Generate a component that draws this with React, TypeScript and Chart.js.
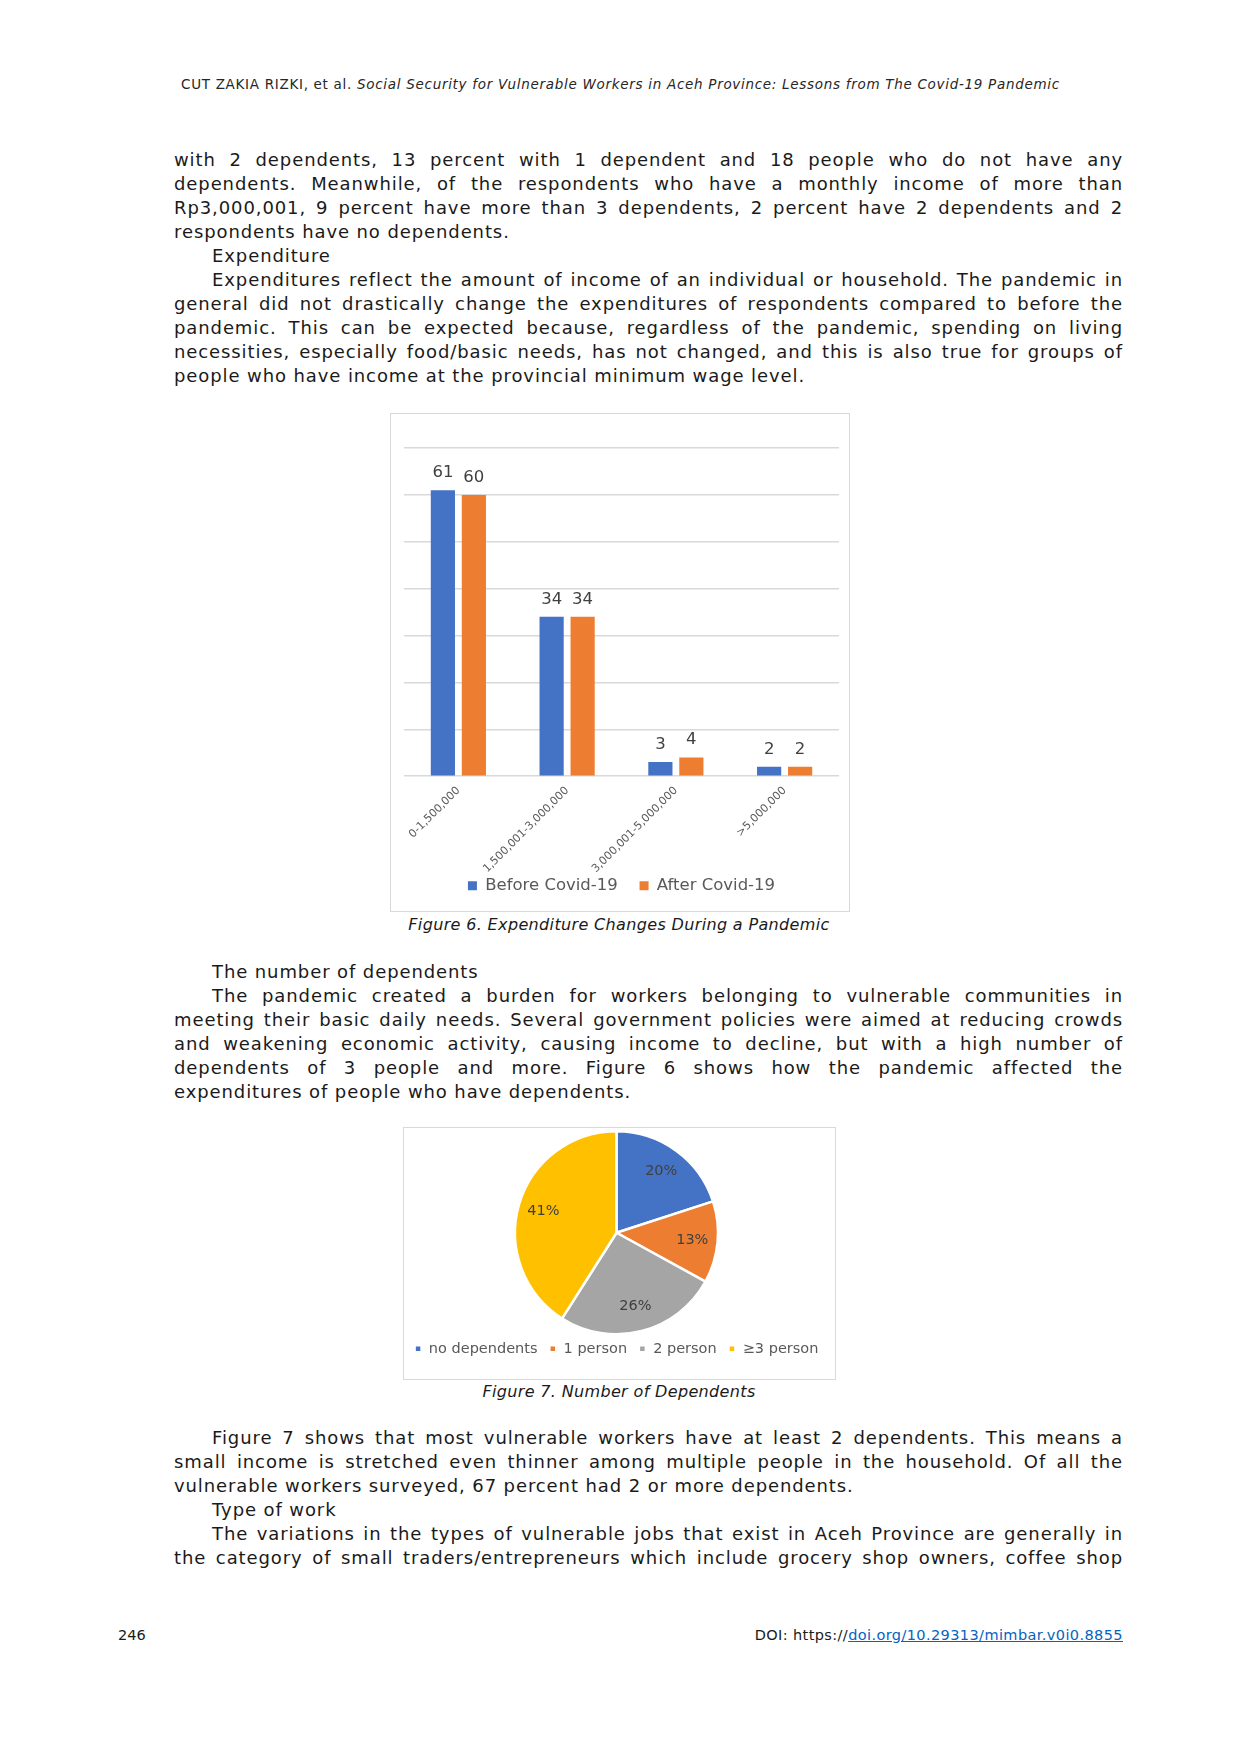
import { useEffect, useRef } from "react";
import { Chart, registerables } from "chart.js";

Chart.register(...registerables);

// Figure 6: expenditure groups (Rp)
const expenditureGroups = ["0-1,500,000", "1,500,001-3,000,000", "3,000,001-5,000,000", ">5,000,000"];
const beforeCovid = [61, 34, 3, 2];
const afterCovid = [60, 34, 4, 2];
const seriesNames = ["Before Covid-19", "After Covid-19"];
const yMax = 70;
const yStep = 10;

// Figure 7: number of dependents
const dependentLabels = ["no dependents", "1 person", "2 person", "≥3 person"];
const dependentShares = [20, 13, 26, 41];

const FONT = "'DejaVu Sans', Verdana, sans-serif";
const BLUE = "#4472C4";
const ORANGE = "#ED7D31";
const GREY = "#A5A5A5";
const GOLD = "#FFC000";

// legend items sit a bit further apart than Chart.js' padding allows, so pad the text itself
function spacedLegend(base: (chart: any) => any[], gap: string) {
	return (chart: any) => {
		const items = base(chart);
		return items.map((item: any, i: number) => (i < items.length - 1 ? { ...item, text: item.text + gap } : item));
	};
}

const barValueLabels = {
	id: "barValueLabels",
	afterDatasetsDraw(chart: any) {
		const { ctx } = chart;
		ctx.save();
		ctx.font = `16.5px ${FONT}`;
		ctx.fillStyle = "#404040";
		ctx.textAlign = "center";
		ctx.textBaseline = "bottom";
		chart.data.datasets.forEach((ds: any, i: number) => {
			chart.getDatasetMeta(i).data.forEach((bar: any, j: number) => {
				ctx.fillText(String(ds.data[j]), bar.x, bar.y - 9);
			});
		});
		ctx.restore();
	},
};

const pieValueLabels = {
	id: "pieValueLabels",
	afterDatasetsDraw(chart: any) {
		const { ctx } = chart;
		ctx.save();
		ctx.font = `14.5px ${FONT}`;
		ctx.fillStyle = "#404040";
		ctx.textAlign = "center";
		ctx.textBaseline = "middle";
		chart.getDatasetMeta(0).data.forEach((arc: any, i: number) => {
			const { x, y, startAngle, endAngle, outerRadius } = arc.getProps(
				["x", "y", "startAngle", "endAngle", "outerRadius"],
				true,
			);
			const mid = (startAngle + endAngle) / 2;
			const r = outerRadius * 0.75;
			ctx.fillText(`${chart.data.datasets[0].data[i]}%`, x + Math.cos(mid) * r, y + Math.sin(mid) * r);
		});
		ctx.restore();
	},
};

function ExpenditureChart() {
	const canvasRef = useRef<HTMLCanvasElement | null>(null);

	useEffect(() => {
		if (!canvasRef.current) return;
		const chart = new Chart(canvasRef.current, {
			type: "bar",
			data: {
				labels: expenditureGroups,
				datasets: [
					{ label: seriesNames[0], data: beforeCovid, backgroundColor: BLUE },
					{ label: seriesNames[1], data: afterCovid, backgroundColor: ORANGE },
				],
			},
			options: {
				animation: false,
				responsive: true,
				maintainAspectRatio: false,
				datasets: { bar: { categoryPercentage: 0.57, barPercentage: 0.78 } },
				layout: { padding: { top: 34, left: 13, right: 10, bottom: 7 } },
				scales: {
					x: {
						grid: { display: false },
						border: { display: false },
						ticks: {
							color: "#595959",
							font: { family: FONT, size: 11 },
							minRotation: 45,
							maxRotation: 45,
							padding: 0,
						},
					},
					y: {
						min: 0,
						max: yMax,
						ticks: { display: false, stepSize: yStep },
						grid: { color: "#d9d9d9", lineWidth: 1.5, drawTicks: false },
						border: { display: false },
					},
				},
				plugins: {
					legend: {
						position: "bottom",
						labels: {
							boxWidth: 9,
							boxHeight: 9,
							padding: 2,
							color: "#595959",
							font: { family: FONT, size: 16.5 },
							generateLabels: spacedLegend(Chart.defaults.plugins.legend.labels.generateLabels, "\u2003\u2009"),
						},
					},
					tooltip: { enabled: false },
				},
			},
			plugins: [barValueLabels],
		});
		return () => chart.destroy();
	}, []);

	return (
		<div
			style={{
				position: "absolute",
				left: 390,
				top: 413,
				width: 460,
				height: 499,
				boxSizing: "border-box",
				border: "1.5px solid #d9d9d9",
			}}
		>
			<div style={{ position: "relative", width: "100%", height: "100%" }}>
				<canvas ref={canvasRef} aria-label="Expenditure changes chart" />
			</div>
		</div>
	);
}

function DependentsChart() {
	const canvasRef = useRef<HTMLCanvasElement | null>(null);

	useEffect(() => {
		if (!canvasRef.current) return;
		const pieLegendBase = (Chart.overrides as any).pie.plugins.legend.labels.generateLabels;
		const chart = new Chart(canvasRef.current, {
			type: "pie",
			data: {
				labels: dependentLabels,
				datasets: [
					{
						data: dependentShares,
						backgroundColor: [BLUE, ORANGE, GREY, GOLD],
						borderColor: "#ffffff",
						borderWidth: 2.5,
					},
				],
			},
			options: {
				animation: false,
				responsive: true,
				maintainAspectRatio: false,
				layout: { padding: { top: 2, left: 0, right: 6, bottom: 13 } },
				plugins: {
					legend: {
						position: "bottom",
						labels: {
							boxWidth: 7,
							boxHeight: 7,
							padding: 6,
							color: "#595959",
							font: { family: FONT, size: 14.5 },
							generateLabels: spacedLegend(pieLegendBase, "\u2009\u2009"),
						},
					},
					tooltip: { enabled: false },
				},
			},
			plugins: [pieValueLabels],
		});
		return () => chart.destroy();
	}, []);

	return (
		<div
			style={{
				position: "absolute",
				left: 403,
				top: 1127,
				width: 433,
				height: 253,
				boxSizing: "border-box",
				border: "1.5px solid #d9d9d9",
			}}
		>
			<div style={{ position: "relative", width: "100%", height: "100%" }}>
				<canvas ref={canvasRef} aria-label="Number of dependents chart" />
			</div>
		</div>
	);
}

type Line = { text: string; indent?: boolean; last?: boolean };

const block1: Line[] = [
	{ text: "with 2 dependents, 13 percent with 1 dependent and 18 people who do not have any" },
	{ text: "dependents. Meanwhile, of the respondents who have a monthly income of more than" },
	{ text: "Rp3,000,001, 9 percent have more than 3 dependents, 2 percent have 2 dependents and 2" },
	{ text: "respondents have no dependents.", last: true },
	{ text: "Expenditure", indent: true, last: true },
	{ text: "Expenditures reflect the amount of income of an individual or household. The pandemic in", indent: true },
	{ text: "general did not drastically change the  expenditures of respondents compared to before the" },
	{ text: "pandemic. This can be expected because, regardless of the pandemic, spending on living" },
	{ text: "necessities, especially food/basic needs, has not changed, and this is also true for groups of" },
	{ text: "people who have income at the provincial minimum wage level.", last: true },
];

const block2: Line[] = [
	{ text: "The number of dependents", indent: true, last: true },
	{ text: "The pandemic created a burden for workers belonging to vulnerable communities in", indent: true },
	{ text: "meeting their basic daily needs. Several government policies were aimed at reducing crowds" },
	{ text: "and weakening economic activity, causing income to decline, but with a high number of" },
	{ text: "dependents of 3 people and more. Figure 6 shows how the pandemic affected the" },
	{ text: "expenditures of people who have dependents.", last: true },
];

const block3: Line[] = [
	{ text: "Figure 7 shows that most vulnerable workers have at least 2 dependents. This means a", indent: true },
	{ text: "small income is stretched even thinner among multiple people in the household. Of all the" },
	{ text: "vulnerable workers surveyed, 67 percent had 2 or more dependents.", last: true },
	{ text: "Type of work", indent: true, last: true },
	{ text: "The variations in the types of vulnerable jobs that exist in Aceh Province are generally in", indent: true },
	{ text: "the category of small traders/entrepreneurs which include grocery shop owners, coffee shop" },
];

const TEXT_LEFT = 174;
const TEXT_RIGHT = 1123;
const INDENT = 38;
const LINE_H = 24;

function TextBlock({ top, lines }: { top: number; lines: Line[] }) {
	return (
		<>
			{lines.map((line, i) => {
				const left = TEXT_LEFT + (line.indent ? INDENT : 0);
				return (
					<div
						key={i}
						style={{
							position: "absolute",
							top: top + i * LINE_H,
							left,
							width: TEXT_RIGHT - left,
							height: LINE_H,
							lineHeight: `${LINE_H}px`,
							fontSize: 18,
							letterSpacing: "0.9px",
							whiteSpace: "nowrap",
							textAlign: line.last ? "left" : "justify",
							textAlignLast: line.last ? "left" : "justify",
							color: "#1a1a1a",
						}}
					>
						{line.text}
					</div>
				);
			})}
		</>
	);
}

const captionStyle = {
	position: "absolute" as const,
	left: 0,
	width: 1238,
	textAlign: "center" as const,
	fontStyle: "italic",
	fontSize: 16,
	letterSpacing: "0.35px",
	lineHeight: "20px",
	color: "#1a1a1a",
};

export default function App() {
	return (
		<div
			style={{
				position: "absolute",
				left: 0,
				top: 0,
				width: 1240,
				height: 1754,
				background: "#ffffff",
				fontFamily: FONT,
				overflow: "hidden",
			}}
		>
			<div
				style={{
					position: "absolute",
					left: 181,
					top: 75,
					fontSize: 13.5,
					letterSpacing: "0.7px",
					lineHeight: "18px",
					color: "#262626",
					whiteSpace: "nowrap",
				}}
			>
				CUT ZAKIA RIZKI, et al. <i>Social Security for Vulnerable Workers in Aceh Province: Lessons from The Covid-19 Pandemic</i>
			</div>

			<TextBlock top={148} lines={block1} />

			<ExpenditureChart />
			<div style={{ ...captionStyle, top: 915 }}>Figure 6. Expenditure Changes During a Pandemic</div>

			<TextBlock top={960} lines={block2} />

			<DependentsChart />
			<div style={{ ...captionStyle, top: 1382 }}>Figure 7. Number of Dependents</div>

			<TextBlock top={1426} lines={block3} />

			<div style={{ position: "absolute", left: 118, top: 1626, fontSize: 14.5, lineHeight: "18px", color: "#1a1a1a" }}>
				246
			</div>
			<div
				style={{
					position: "absolute",
					right: 117,
					top: 1626,
					fontSize: 14.5,
					letterSpacing: "0.4px",
					lineHeight: "18px",
					color: "#1a1a1a",
					whiteSpace: "nowrap",
				}}
			>
				DOI: https://
				<a href="https://doi.org/10.29313/mimbar.v0i0.8855" style={{ color: "#0563C1", textDecoration: "underline" }}>
					doi.org/10.29313/mimbar.v0i0.8855
				</a>
			</div>
		</div>
	);
}
